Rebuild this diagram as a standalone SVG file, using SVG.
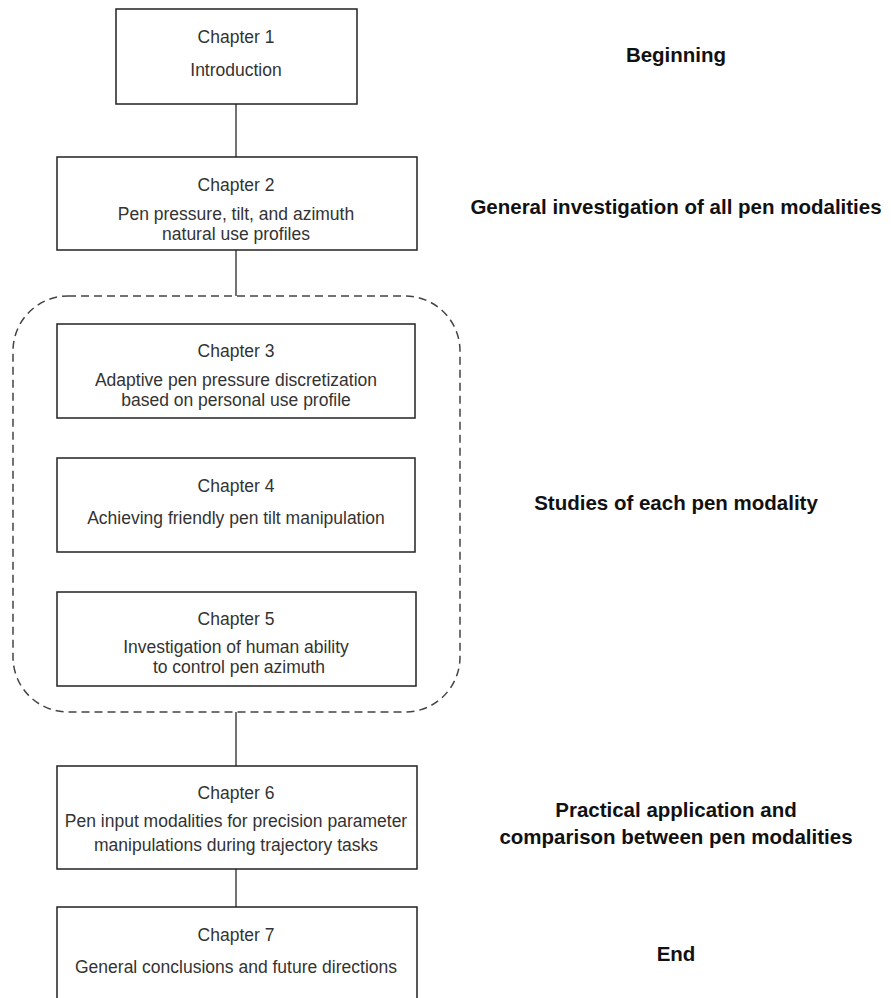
<svg xmlns="http://www.w3.org/2000/svg" width="891" height="998" viewBox="0 0 891 998">
<style>
.box{fill:#fff;stroke:#222;stroke-width:1.5}
.t{font-family:"Liberation Sans",Arial,sans-serif;font-size:17.5px;fill:#333;text-anchor:middle}
.l{font-family:"Liberation Sans",Arial,sans-serif;font-size:20.5px;font-weight:bold;fill:#111;text-anchor:middle}
.c{stroke:#444;stroke-width:1.5;fill:none}
.d{stroke:#444;stroke-width:1.5;fill:none;stroke-dasharray:8 5}
</style>
<rect width="891" height="998" fill="#fff"/>
<g id="connectors">
<line class="c" x1="236" y1="104" x2="236" y2="157"/>
<line class="c" x1="236" y1="250" x2="236" y2="296"/>
<line class="c" x1="236" y1="712" x2="236" y2="766"/>
<line class="c" x1="236" y1="869" x2="236" y2="907"/>
</g>
<g id="group-modalities">
<rect class="d" x="13" y="296" width="447" height="416" rx="55" ry="55"/>
</g>
<g id="ch1">
<rect class="box" x="116" y="9" width="241" height="95"/>
<text class="t" x="236" y="43">Chapter 1</text>
<text class="t" x="236" y="76">Introduction</text>
</g>
<g id="ch2">
<rect class="box" x="57" y="157" width="360" height="93"/>
<text class="t" x="236" y="191">Chapter 2</text>
<text class="t" x="236" y="220">Pen pressure, tilt, and azimuth</text>
<text class="t" x="236" y="240">natural use profiles</text>
</g>
<g id="ch3">
<rect class="box" x="57" y="324" width="358" height="94"/>
<text class="t" x="236" y="357">Chapter 3</text>
<text class="t" x="236" y="386">Adaptive pen pressure discretization</text>
<text class="t" x="236" y="406">based on personal use profile</text>
</g>
<g id="ch4">
<rect class="box" x="57" y="458" width="358" height="94"/>
<text class="t" x="236" y="492">Chapter 4</text>
<text class="t" x="236" y="524">Achieving friendly pen tilt manipulation</text>
</g>
<g id="ch5">
<rect class="box" x="57" y="592" width="359" height="94"/>
<text class="t" x="236" y="625">Chapter 5</text>
<text class="t" x="236" y="653">Investigation of human ability</text>
<text class="t" x="239" y="673">to control pen azimuth</text>
</g>
<g id="ch6">
<rect class="box" x="57" y="766" width="360" height="103"/>
<text class="t" x="236" y="799">Chapter 6</text>
<text class="t" x="236" y="827">Pen input modalities for precision parameter</text>
<text class="t" x="236" y="851">manipulations during trajectory tasks</text>
</g>
<g id="ch7">
<rect class="box" x="57" y="907" width="360" height="100"/>
<text class="t" x="236" y="941">Chapter 7</text>
<text class="t" x="236" y="973">General conclusions and future directions</text>
</g>
<g id="labels">
<text class="l" x="676" y="62">Beginning</text>
<text class="l" x="676" y="214">General investigation of all pen modalities</text>
<text class="l" x="676" y="510">Studies of each pen modality</text>
<text class="l" x="676" y="817">Practical application and</text>
<text class="l" x="676" y="844">comparison between pen modalities</text>
<text class="l" x="676" y="961">End</text>
</g>
</svg>
